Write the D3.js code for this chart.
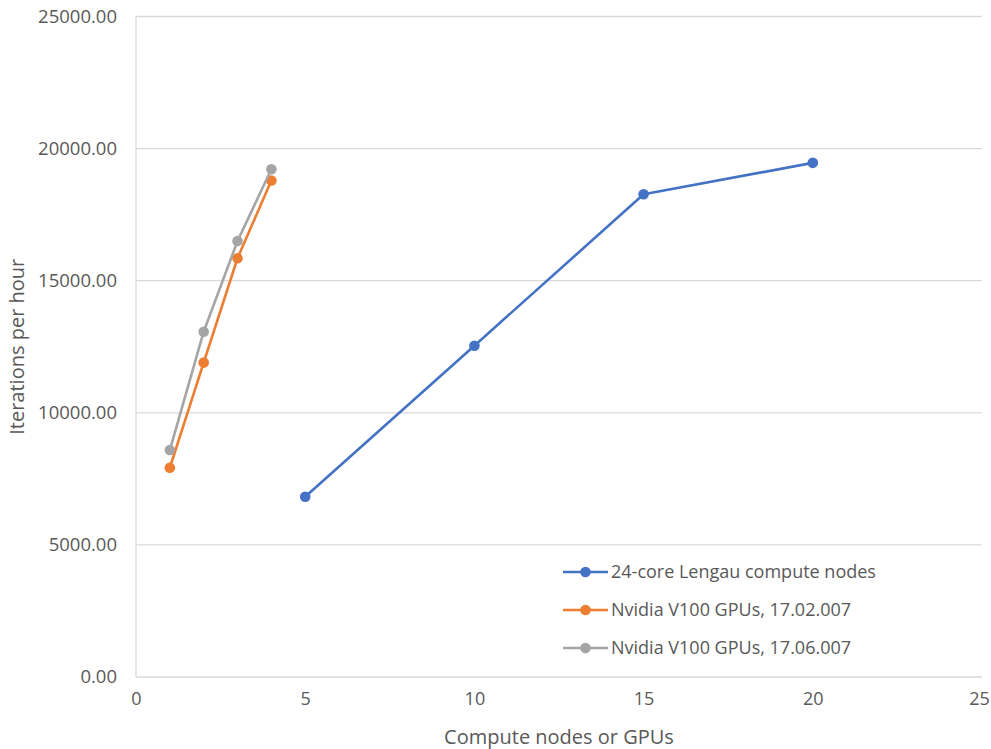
<!DOCTYPE html>
<html>
<head>
<meta charset="utf-8">
<script src="https://cdn.jsdelivr.net/npm/d3@7"></script>
<style>
  html, body { margin: 0; padding: 0; background: #fff; }
  svg text { font-family: "Open Sans", "Noto Sans", sans-serif; fill: #595959; }
</style>
</head>
<body>
<svg id="chart" width="991" height="749"></svg>
<script>
// Throughput scaling: iterations per hour vs. number of compute nodes / GPUs
const seriesNames = [
  "24-core Lengau compute nodes",
  "Nvidia V100 GPUs, 17.02.007",
  "Nvidia V100 GPUs, 17.06.007"
];
const seriesColors = ["#4472C4", "#ED7D31", "#A5A5A5"];

const lengauNodes = [5, 10, 15, 20];
const lengauIters = [6820, 12540, 18270, 19460];

const gpu0702Count = [1, 2, 3, 4];
const gpu0702Iters = [7920, 11900, 15850, 18790];

const gpu0706Count = [1, 2, 3, 4];
const gpu0706Iters = [8590, 13070, 16500, 19220];

const xTicks = [0, 5, 10, 15, 20, 25];
const yTicks = [0, 5000, 10000, 15000, 20000, 25000];

const series = [
  { name: seriesNames[0], color: seriesColors[0], xs: lengauNodes, ys: lengauIters },
  { name: seriesNames[1], color: seriesColors[1], xs: gpu0702Count, ys: gpu0702Iters },
  { name: seriesNames[2], color: seriesColors[2], xs: gpu0706Count, ys: gpu0706Iters }
];

const svg = d3.select("#chart");
const plot = { left: 136, right: 982, top: 16.5, bottom: 677 };

const x = d3.scaleLinear().domain([0, 25]).range([plot.left, plot.right]);
const y = d3.scaleLinear().domain([0, 25000]).range([plot.bottom, plot.top]);

// horizontal gridlines
svg.append("g")
  .selectAll("line")
  .data(yTicks)
  .join("line")
  .attr("x1", plot.left).attr("x2", plot.right)
  .attr("y1", d => y(d)).attr("y2", d => y(d))
  .attr("stroke", "#d9d9d9").attr("stroke-width", 1.3);

// left axis line
svg.append("line")
  .attr("x1", plot.left).attr("x2", plot.left)
  .attr("y1", plot.top).attr("y2", plot.bottom)
  .attr("stroke", "#d9d9d9").attr("stroke-width", 1.3);

// y axis labels
const yAxis = d3.axisLeft(y).tickValues(yTicks).tickFormat(d3.format(".2f")).tickSize(0).tickPadding(19);
const gy = svg.append("g").attr("transform", `translate(${plot.left},0)`).call(yAxis);
gy.select(".domain").remove();
gy.selectAll("text").style("font-size", "18.5px").attr("fill", "#595959");

// x axis labels (last label kept inside the canvas edge)
const xAxis = d3.axisBottom(x).tickValues(xTicks).tickFormat(d3.format("d")).tickSize(0).tickPadding(15);
const gx = svg.append("g").attr("transform", `translate(0,${plot.bottom})`).call(xAxis);
gx.select(".domain").remove();
gx.selectAll("text").style("font-size", "18px").attr("fill", "#595959")
  .attr("dx", d => d === 25 ? -3 : 0);

// axis titles
svg.append("text")
  .attr("x", (plot.left + plot.right) / 2).attr("y", 744)
  .attr("text-anchor", "middle").style("font-size", "20px")
  .text("Compute  nodes or GPUs");

svg.append("text")
  .attr("transform", `translate(24,${(plot.top + plot.bottom) / 2}) rotate(-90)`)
  .attr("text-anchor", "middle").style("font-size", "20px")
  .text("Iterations per hour");

// series lines and markers
const line = d3.line().x(d => x(d[0])).y(d => y(d[1]));

series.forEach(s => {
  const pts = s.xs.map((v, i) => [v, s.ys[i]]);
  const g = svg.append("g");
  g.append("path")
    .datum(pts)
    .attr("d", line)
    .attr("fill", "none")
    .attr("stroke", s.color)
    .attr("stroke-width", 2.6)
    .attr("stroke-linejoin", "round");
  g.selectAll("circle")
    .data(pts)
    .join("circle")
    .attr("cx", d => x(d[0])).attr("cy", d => y(d[1]))
    .attr("r", 5.3)
    .attr("fill", s.color);
});

// legend
const legend = svg.append("g").attr("transform", "translate(563,572)");
series.forEach((s, i) => {
  const row = legend.append("g").attr("transform", `translate(0,${i * 38})`);
  row.append("line").attr("x1", 0).attr("x2", 45).attr("y1", 0).attr("y2", 0)
    .attr("stroke", s.color).attr("stroke-width", 2.6);
  row.append("circle").attr("cx", 22.5).attr("cy", 0).attr("r", 5.3).attr("fill", s.color);
  row.append("text").attr("x", 48).attr("y", 0).attr("dy", "0.35em")
    .style("font-size", "18px").text(s.name);
});
</script>
</body>
</html>
